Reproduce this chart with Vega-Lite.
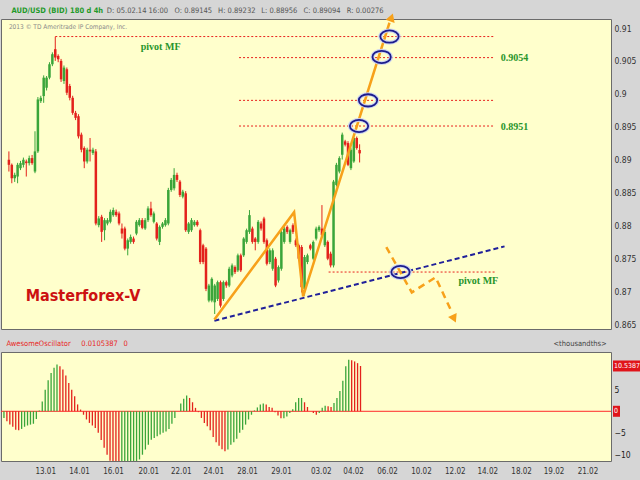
{
  "$schema": "https://vega.github.io/schema/vega-lite/v6.json",
  "background": "#d6d6d6",
  "padding": 0,
  "spacing": 2,
  "datasets": {
    "bars": [
      {"i":0,"o":0.88997,"h":0.89124,"l":0.88818,"c":0.8892,"ao":-1.55},
      {"i":1,"o":0.8892,"h":0.8894,"l":0.8864,"c":0.88716,"ao":-2.3},
      {"i":2,"o":0.88716,"h":0.888,"l":0.8866,"c":0.88767,"ao":-3.1},
      {"i":3,"o":0.88742,"h":0.8895,"l":0.8864,"c":0.8892,"ao":-3.6},
      {"i":4,"o":0.88869,"h":0.8898,"l":0.8884,"c":0.88946,"ao":-4.3},
      {"i":5,"o":0.8892,"h":0.8903,"l":0.8888,"c":0.88997,"ao":-4.4},
      {"i":6,"o":0.88971,"h":0.89,"l":0.88742,"c":0.88946,"ao":-4.1},
      {"i":7,"o":0.88946,"h":0.8906,"l":0.8891,"c":0.89022,"ao":-3.6},
      {"i":8,"o":0.89022,"h":0.8907,"l":0.8892,"c":0.88946,"ao":-3.3},
      {"i":9,"o":0.88818,"h":0.8943,"l":0.88793,"c":0.89124,"ao":-3.1},
      {"i":10,"o":0.89124,"h":0.8995,"l":0.891,"c":0.89914,"ao":-2.9},
      {"i":11,"o":0.89888,"h":0.8997,"l":0.8986,"c":0.89939,"ao":-1.8},
      {"i":12,"o":0.89965,"h":0.9028,"l":0.89863,"c":0.90245,"ao":0.2},
      {"i":13,"o":0.90092,"h":0.9027,"l":0.9005,"c":0.90245,"ao":2.3},
      {"i":14,"o":0.90245,"h":0.9048,"l":0.9022,"c":0.90449,"ao":5.0},
      {"i":15,"o":0.90449,"h":0.9063,"l":0.9042,"c":0.90602,"ao":7.2},
      {"i":16,"o":0.90678,"h":0.90867,"l":0.905,"c":0.90551,"ao":8.9},
      {"i":17,"o":0.90576,"h":0.906,"l":0.9048,"c":0.90525,"ao":10.1},
      {"i":18,"o":0.905,"h":0.9053,"l":0.9018,"c":0.9022,"ao":10.9},
      {"i":19,"o":0.90194,"h":0.9043,"l":0.9015,"c":0.90398,"ao":10.5},
      {"i":20,"o":0.90373,"h":0.904,"l":0.8998,"c":0.90016,"ao":9.7},
      {"i":21,"o":0.90118,"h":0.9015,"l":0.899,"c":0.89939,"ao":8.3},
      {"i":22,"o":0.89939,"h":0.8997,"l":0.8968,"c":0.8971,"ao":6.6},
      {"i":23,"o":0.8971,"h":0.8974,"l":0.896,"c":0.89634,"ao":5.0},
      {"i":24,"o":0.89659,"h":0.8969,"l":0.8932,"c":0.89353,"ao":3.5},
      {"i":25,"o":0.89379,"h":0.8941,"l":0.8911,"c":0.8915,"ao":1.6},
      {"i":26,"o":0.89175,"h":0.892,"l":0.88869,"c":0.88971,"ao":0.4},
      {"i":27,"o":0.88971,"h":0.8918,"l":0.8894,"c":0.8915,"ao":-0.8},
      {"i":28,"o":0.8915,"h":0.89328,"l":0.88971,"c":0.89124,"ao":-1.9},
      {"i":29,"o":0.89099,"h":0.8918,"l":0.8907,"c":0.8915,"ao":-2.7},
      {"i":30,"o":0.89124,"h":0.8916,"l":0.88,"c":0.88028,"ao":-3.3},
      {"i":31,"o":0.88003,"h":0.8814,"l":0.8797,"c":0.88105,"ao":-3.9},
      {"i":32,"o":0.8813,"h":0.8816,"l":0.87748,"c":0.87901,"ao":-5.0},
      {"i":33,"o":0.87926,"h":0.8811,"l":0.87773,"c":0.88079,"ao":-6.7},
      {"i":34,"o":0.88028,"h":0.8811,"l":0.88,"c":0.88079,"ao":-8.5},
      {"i":35,"o":0.88054,"h":0.8824,"l":0.8803,"c":0.88206,"ao":-10.1},
      {"i":36,"o":0.88155,"h":0.8827,"l":0.8813,"c":0.88232,"ao":-11.5},
      {"i":37,"o":0.88206,"h":0.8824,"l":0.8813,"c":0.88155,"ao":-12.5},
      {"i":38,"o":0.88181,"h":0.8821,"l":0.88,"c":0.88028,"ao":-12.8},
      {"i":39,"o":0.87952,"h":0.88028,"l":0.87799,"c":0.87875,"ao":-13},
      {"i":40,"o":0.87952,"h":0.8798,"l":0.8762,"c":0.87646,"ao":-13},
      {"i":41,"o":0.87646,"h":0.878,"l":0.87544,"c":0.87773,"ao":-13},
      {"i":42,"o":0.87748,"h":0.8786,"l":0.8772,"c":0.87824,"ao":-13},
      {"i":43,"o":0.87799,"h":0.8783,"l":0.8772,"c":0.87748,"ao":-12.8},
      {"i":44,"o":0.87875,"h":0.8808,"l":0.8785,"c":0.88054,"ao":-12.5},
      {"i":45,"o":0.88003,"h":0.8811,"l":0.8798,"c":0.88079,"ao":-12},
      {"i":46,"o":0.88079,"h":0.8811,"l":0.8794,"c":0.87962,"ao":-11.2},
      {"i":47,"o":0.87952,"h":0.8811,"l":0.8793,"c":0.88079,"ao":-10.1},
      {"i":48,"o":0.88079,"h":0.8829,"l":0.8805,"c":0.88257,"ao":-8.9},
      {"i":49,"o":0.88257,"h":0.88359,"l":0.8813,"c":0.88155,"ao":-7.8},
      {"i":50,"o":0.88054,"h":0.8821,"l":0.8803,"c":0.88181,"ao":-6.6},
      {"i":51,"o":0.88028,"h":0.8805,"l":0.8777,"c":0.87799,"ao":-6.2},
      {"i":52,"o":0.87748,"h":0.88,"l":0.877,"c":0.87977,"ao":-5.8},
      {"i":53,"o":0.87977,"h":0.8805,"l":0.8795,"c":0.88028,"ao":-5.4},
      {"i":54,"o":0.88003,"h":0.8811,"l":0.8798,"c":0.88079,"ao":-5.0},
      {"i":55,"o":0.88028,"h":0.8857,"l":0.88,"c":0.88538,"ao":-4.7},
      {"i":56,"o":0.88538,"h":0.8872,"l":0.8851,"c":0.88691,"ao":-4.1},
      {"i":57,"o":0.88563,"h":0.88869,"l":0.8853,"c":0.88767,"ao":-2.9},
      {"i":58,"o":0.88767,"h":0.888,"l":0.8866,"c":0.88691,"ao":-1.55},
      {"i":59,"o":0.88665,"h":0.8869,"l":0.8843,"c":0.88461,"ao":0},
      {"i":60,"o":0.88436,"h":0.8854,"l":0.8841,"c":0.88512,"ao":1.8},
      {"i":61,"o":0.88487,"h":0.8852,"l":0.879,"c":0.87926,"ao":2.9},
      {"i":62,"o":0.87901,"h":0.8805,"l":0.8787,"c":0.88028,"ao":3.7},
      {"i":63,"o":0.87926,"h":0.8811,"l":0.879,"c":0.88079,"ao":3.1},
      {"i":64,"o":0.88003,"h":0.8808,"l":0.8798,"c":0.88054,"ao":2.1},
      {"i":65,"o":0.88054,"h":0.8808,"l":0.8798,"c":0.88003,"ao":0.8},
      {"i":66,"o":0.87926,"h":0.8795,"l":0.8741,"c":0.87442,"ao":-0.2},
      {"i":67,"o":0.87697,"h":0.8772,"l":0.8741,"c":0.87442,"ao":-1.55},
      {"i":68,"o":0.87646,"h":0.8767,"l":0.87,"c":0.87034,"ao":-2.7},
      {"i":69,"o":0.86856,"h":0.8711,"l":0.8683,"c":0.87085,"ao":-3.5},
      {"i":70,"o":0.86856,"h":0.8721,"l":0.8683,"c":0.87187,"ao":-4.4},
      {"i":71,"o":0.8683,"h":0.8711,"l":0.86652,"c":0.87085,"ao":-6.0},
      {"i":72,"o":0.86881,"h":0.8716,"l":0.8685,"c":0.87136,"ao":-7.2},
      {"i":73,"o":0.87136,"h":0.8716,"l":0.8675,"c":0.86779,"ao":-8.0},
      {"i":74,"o":0.86881,"h":0.8716,"l":0.8685,"c":0.87136,"ao":-8.8},
      {"i":75,"o":0.87136,"h":0.8716,"l":0.8705,"c":0.87085,"ao":-9.3},
      {"i":76,"o":0.87085,"h":0.8737,"l":0.8706,"c":0.8734,"ao":-8.9},
      {"i":77,"o":0.87238,"h":0.8742,"l":0.8721,"c":0.87391,"ao":-7.8},
      {"i":78,"o":0.87366,"h":0.8739,"l":0.8726,"c":0.87289,"ao":-7.2},
      {"i":79,"o":0.87315,"h":0.8757,"l":0.8729,"c":0.87544,"ao":-6.4},
      {"i":80,"o":0.87544,"h":0.8757,"l":0.8729,"c":0.87315,"ao":-5.0},
      {"i":81,"o":0.87544,"h":0.8782,"l":0.8752,"c":0.87799,"ao":-4.3},
      {"i":82,"o":0.87748,"h":0.8795,"l":0.8772,"c":0.87926,"ao":-3.1},
      {"i":83,"o":0.879,"h":0.88232,"l":0.8787,"c":0.88155,"ao":-1.9},
      {"i":84,"o":0.87951,"h":0.8798,"l":0.8772,"c":0.87748,"ao":-0.8},
      {"i":85,"o":0.87798,"h":0.8782,"l":0.8762,"c":0.87748,"ao":0.2},
      {"i":86,"o":0.87748,"h":0.8808,"l":0.8772,"c":0.88053,"ao":0.9},
      {"i":87,"o":0.88028,"h":0.8806,"l":0.8792,"c":0.87951,"ao":1.6},
      {"i":88,"o":0.88104,"h":0.8813,"l":0.8772,"c":0.87748,"ao":1.8},
      {"i":89,"o":0.87773,"h":0.878,"l":0.8739,"c":0.87416,"ao":1.6},
      {"i":90,"o":0.87442,"h":0.8765,"l":0.8741,"c":0.8762,"ao":1.0},
      {"i":91,"o":0.8734,"h":0.8765,"l":0.8731,"c":0.8762,"ao":0.8},
      {"i":92,"o":0.87493,"h":0.8752,"l":0.8706,"c":0.87085,"ao":-0.2},
      {"i":93,"o":0.87162,"h":0.8739,"l":0.8713,"c":0.87365,"ao":-1.0},
      {"i":94,"o":0.8734,"h":0.8793,"l":0.8731,"c":0.879,"ao":-1.6},
      {"i":95,"o":0.87748,"h":0.8798,"l":0.8772,"c":0.87951,"ao":-1.6},
      {"i":96,"o":0.87977,"h":0.88,"l":0.8787,"c":0.879,"ao":-1.2},
      {"i":97,"o":0.87748,"h":0.8795,"l":0.8772,"c":0.87926,"ao":-0.4},
      {"i":98,"o":0.88002,"h":0.8803,"l":0.8787,"c":0.879,"ao":0.5},
      {"i":99,"o":0.87773,"h":0.878,"l":0.8767,"c":0.87697,"ao":2.1},
      {"i":100,"o":0.87697,"h":0.8772,"l":0.8747,"c":0.87493,"ao":3.1},
      {"i":101,"o":0.87671,"h":0.877,"l":0.8698,"c":0.8706,"ao":3.1},
      {"i":102,"o":0.87034,"h":0.8755,"l":0.86932,"c":0.87518,"ao":2.1},
      {"i":103,"o":0.87442,"h":0.8757,"l":0.8741,"c":0.87544,"ao":1.0},
      {"i":104,"o":0.87697,"h":0.8772,"l":0.8762,"c":0.87646,"ao":0},
      {"i":105,"o":0.87493,"h":0.8777,"l":0.8747,"c":0.87748,"ao":-0.4},
      {"i":106,"o":0.87798,"h":0.8798,"l":0.8777,"c":0.87951,"ao":-0.8},
      {"i":107,"o":0.87926,"h":0.88,"l":0.879,"c":0.87977,"ao":-0.4},
      {"i":108,"o":0.87951,"h":0.88308,"l":0.8782,"c":0.87849,"ao":0.8},
      {"i":109,"o":0.87697,"h":0.8793,"l":0.8767,"c":0.879,"ao":1.3},
      {"i":110,"o":0.87748,"h":0.8777,"l":0.8747,"c":0.87493,"ao":1.2},
      {"i":111,"o":0.87569,"h":0.876,"l":0.8736,"c":0.87391,"ao":1.0},
      {"i":112,"o":0.87391,"h":0.8869,"l":0.8736,"c":0.88665,"ao":1.9},
      {"i":113,"o":0.88614,"h":0.8895,"l":0.8859,"c":0.8892,"ao":3.1},
      {"i":114,"o":0.88818,"h":0.8905,"l":0.8879,"c":0.89022,"ao":4.7},
      {"i":115,"o":0.89073,"h":0.8941,"l":0.89,"c":0.89379,"ao":7.1},
      {"i":116,"o":0.89277,"h":0.893,"l":0.892,"c":0.89226,"ao":10.5},
      {"i":117,"o":0.89251,"h":0.8928,"l":0.889,"c":0.8892,"ao":12.0},
      {"i":118,"o":0.88869,"h":0.8918,"l":0.8884,"c":0.89149,"ao":11.9},
      {"i":119,"o":0.88971,"h":0.8935,"l":0.8895,"c":0.89328,"ao":11.6},
      {"i":120,"o":0.89328,"h":0.8935,"l":0.8915,"c":0.89175,"ao":11.2},
      {"i":121,"o":0.89145,"h":0.89232,"l":0.88956,"c":0.89094,"ao":10.5387}
    ],
    "levels": [
      {"i1":16,"i2":167.6,"p":0.9087},
      {"i1":79.4,"i2":167.6,"p":0.9055},
      {"i1":79.4,"i2":167.6,"p":0.899},
      {"i1":79.4,"i2":167.6,"p":0.8951},
      {"i1":110.3,"i2":167.6,"p":0.8729}
    ],
    "circles": [
      {"i":131.3,"p":0.9087},
      {"i":128.6,"p":0.9056},
      {"i":123.9,"p":0.899},
      {"i":120.8,"p":0.8951},
      {"i":135.1,"p":0.8729}
    ]
  },
  "vconcat": [
    {
      "width": 610,
      "height": 310,
      "resolve": {"axis": {"x": "independent", "y": "independent"}},
      "layer": [
        {
          "data": {"name": "levels"},
          "mark": {"type": "rule", "color": "#e8211c", "strokeDash": [2, 2], "strokeWidth": 1},
          "encoding": {
            "x": {"field": "i1", "type": "quantitative", "axis": null},
            "x2": {"field": "i2"},
            "y": {"field": "p", "type": "quantitative", "axis": null}
          }
        },
        {
          "data": {"name": "bars"},
          "mark": {"type": "rule", "strokeWidth": 1},
          "encoding": {
            "x": {
              "field": "i", "type": "quantitative",
              "scale": {"domain": [-1, 206], "nice": false, "zero": false},
              "axis": {
                "orient": "top", "title": null,
                "values": [0.7, 33.6, 57, 72, 86.9, 101.5, 116.4],
                "labelExpr": "['AUD/USD (BID) 180 d 4h','D: 05.02.14 16:00','O: 0.89145','H: 0.89232','L: 0.88956','C: 0.89094','R: 0.00276'][indexof([0.7,33.6,57,72,86.9,101.5,116.4], datum.value)]",
                "labelAlign": "left", "labelFlush": false, "labelOverlap": false,
                "ticks": false, "domain": false, "grid": false,
                "labelPadding": 5, "labelFontSize": 7.5,
                "labelColor": {"condition": {"test": "datum.value < 1", "value": "#1f9a2a"}, "value": "#555555"},
                "labelFontWeight": {"condition": {"test": "datum.value < 1", "value": "bold"}, "value": "normal"},
                "minExtent": 18, "maxExtent": 18
              }
            },
            "y": {
              "field": "l", "type": "quantitative",
              "scale": {"domain": [0.86424, 0.91137], "nice": false, "zero": false},
              "axis": {
                "orient": "right", "title": null,
                "values": [0.865, 0.87, 0.875, 0.88, 0.885, 0.89, 0.895, 0.9, 0.905, 0.91],
                "format": ".3~f", "ticks": false, "domain": false, "grid": false,
                "labelPadding": 3, "labelFontSize": 8.5, "labelColor": "#333333",
                "minExtent": 30, "maxExtent": 30
              }
            },
            "y2": {"field": "h"},
            "color": {"condition": {"test": "datum.c >= datum.o", "value": "#3aa53a"}, "value": "#e3221c"}
          }
        },
        {
          "data": {"name": "bars"},
          "mark": {"type": "bar", "width": 2.5},
          "encoding": {
            "x": {"field": "i", "type": "quantitative", "axis": null},
            "y": {"field": "o", "type": "quantitative", "axis": null},
            "y2": {"field": "c"},
            "color": {"condition": {"test": "datum.c >= datum.o", "value": "#3aa53a"}, "value": "#e3221c"}
          }
        },
        {
          "data": {"values": [{"i": 70.9, "p": 0.8655}, {"i": 171, "p": 0.8768}]},
          "mark": {"type": "line", "color": "#20209a", "strokeWidth": 2, "strokeDash": [5, 3]},
          "encoding": {
            "x": {"field": "i", "type": "quantitative", "axis": null},
            "y": {"field": "p", "type": "quantitative", "axis": null}
          }
        },
        {
          "data": {"values": [{"i": 70.9, "p": 0.8657}, {"i": 98.4, "p": 0.882}, {"i": 101.5, "p": 0.8692}, {"i": 131.3, "p": 0.9108}]},
          "mark": {"type": "line", "color": "#f7a11a", "strokeWidth": 2.5},
          "encoding": {
            "x": {"field": "i", "type": "quantitative", "axis": null},
            "y": {"field": "p", "type": "quantitative", "axis": null}
          }
        },
        {
          "data": {"values": [{"i": 130.2, "p": 0.8767}, {"i": 139, "p": 0.8698}, {"i": 147.2, "p": 0.8721}, {"i": 152.6, "p": 0.867}]},
          "mark": {"type": "line", "color": "#f7a11a", "strokeWidth": 2.5, "strokeDash": [7, 5]},
          "encoding": {
            "x": {"field": "i", "type": "quantitative", "axis": null},
            "y": {"field": "p", "type": "quantitative", "axis": null}
          }
        },
        {
          "data": {"values": [{"i": 132, "p": 0.9116}]},
          "mark": {"type": "point", "shape": "triangle-up", "filled": true, "color": "#f7a11a", "opacity": 1, "size": 90, "angle": 19},
          "encoding": {
            "x": {"field": "i", "type": "quantitative", "axis": null},
            "y": {"field": "p", "type": "quantitative", "axis": null}
          }
        },
        {
          "data": {"values": [{"i": 153.6, "p": 0.8658}]},
          "mark": {"type": "point", "shape": "triangle-down", "filled": true, "color": "#f7a11a", "opacity": 1, "size": 90, "angle": -25},
          "encoding": {
            "x": {"field": "i", "type": "quantitative", "axis": null},
            "y": {"field": "p", "type": "quantitative", "axis": null}
          }
        },
        {
          "data": {"name": "circles"},
          "mark": {"type": "point", "shape": "M-1.5,0A1.5,1,0,1,1,1.5,0A1.5,1,0,1,1,-1.5,0Z", "filled": false, "color": "#c9d2f5", "strokeWidth": 4, "opacity": 0.9, "size": 150},
          "encoding": {
            "x": {"field": "i", "type": "quantitative", "axis": null},
            "y": {"field": "p", "type": "quantitative", "axis": null}
          }
        },
        {
          "data": {"name": "circles"},
          "mark": {"type": "point", "shape": "M-1.5,0A1.5,1,0,1,1,1.5,0A1.5,1,0,1,1,-1.5,0Z", "filled": false, "color": "#1c1c8c", "strokeWidth": 1.8, "opacity": 1, "size": 150},
          "encoding": {
            "x": {"field": "i", "type": "quantitative", "axis": null},
            "y": {"field": "p", "type": "quantitative", "axis": null}
          }
        },
        {
          "data": {"values": [
            {"i": 45.5, "p": 0.90714, "t": "pivot MF"},
            {"i": 169.7, "p": 0.90545, "t": "0.9054"},
            {"i": 169.7, "p": 0.89491, "t": "0.8951"},
            {"i": 155.1, "p": 0.87148, "t": "pivot MF"}
          ]},
          "mark": {"type": "text", "align": "left", "baseline": "middle", "font": "Liberation Serif, DejaVu Serif, serif", "fontWeight": "bold", "fontSize": 10, "color": "#27952a"},
          "encoding": {
            "x": {"field": "i", "type": "quantitative", "axis": null},
            "y": {"field": "p", "type": "quantitative", "axis": null},
            "text": {"field": "t"}
          }
        },
        {
          "data": {"values": [{"i": 5.8, "p": 0.8693, "t": "Masterforex-V"}]},
          "mark": {"type": "text", "align": "left", "baseline": "middle", "font": "DejaVu Sans Condensed, Liberation Sans, sans-serif", "fontWeight": "bold", "fontSize": 16, "color": "#cc1111"},
          "encoding": {
            "x": {"field": "i", "type": "quantitative", "axis": null},
            "y": {"field": "p", "type": "quantitative", "axis": null},
            "text": {"field": "t"}
          }
        },
        {
          "data": {"values": [{"i": 0, "p": 0.9101, "t": "2013 © TD Ameritrade IP Company, Inc."}]},
          "mark": {"type": "text", "align": "left", "baseline": "middle", "font": "DejaVu Sans Condensed, Liberation Sans, sans-serif", "fontSize": 6.5, "color": "#8a8a8a"},
          "encoding": {
            "x": {"field": "i", "type": "quantitative", "axis": null},
            "y": {"field": "p", "type": "quantitative", "axis": null},
            "text": {"field": "t"}
          }
        }
      ]
    },
    {
      "width": 610,
      "height": 109,
      "resolve": {"axis": {"x": "independent", "y": "independent"}},
      "layer": [
        {
          "data": {"values": [{}]},
          "mark": {"type": "rule", "color": "#ff2a2a", "strokeWidth": 1},
          "encoding": {
            "x": {
              "datum": -1, "type": "quantitative",
              "scale": {"domain": [-1, 206], "nice": false, "zero": false},
              "axis": {
                "orient": "top", "title": null,
                "values": [0.7, 26.1, 40.4, 186.3],
                "labelExpr": "['AwesomeOscillator','0.0105387','0','<thousandths>'][indexof([0.7,26.1,40.4,186.3], datum.value)]",
                "labelAlign": "left", "labelFlush": false, "labelOverlap": false,
                "ticks": false, "domain": false, "grid": false,
                "labelPadding": 5, "labelFontSize": 7.5,
                "labelColor": {"condition": {"test": "datum.value < 100", "value": "#e8281e"}, "value": "#444444"},
                "minExtent": 19, "maxExtent": 19
              }
            },
            "x2": {"datum": 206},
            "y": {
              "datum": 0, "type": "quantitative",
              "scale": {"domain": [-11.56, 13.79], "nice": false, "zero": false},
              "axis": {
                "orient": "right", "title": null, "values": [5, -5, -10],
                "ticks": false, "domain": false, "grid": false,
                "labelPadding": 3, "labelFontSize": 8.5, "labelColor": "#222222",
                "minExtent": 30, "maxExtent": 30
              }
            }
          }
        },
        {
          "data": {"name": "bars"},
          "transform": [{"window": [{"op": "lag", "field": "ao", "as": "prev"}], "sort": [{"field": "i", "order": "ascending"}]}],
          "mark": {"type": "rule", "strokeWidth": 1.3, "clip": true},
          "encoding": {
            "x": {
              "field": "i", "type": "quantitative",
              "axis": {
                "orient": "bottom", "title": null,
                "values": [14, 25.5, 37, 49, 60, 71, 82.5, 94, 107.5, 118.5, 130, 141.5, 153, 164, 175.5, 186.5, 198],
                "labelExpr": "['13.01','14.01','16.01','20.01','22.01','24.01','28.01','29.01','03.02','04.02','06.02','10.02','12.02','14.02','18.02','19.02','21.02'][indexof([14,25.5,37,49,60,71,82.5,94,107.5,118.5,130,141.5,153,164,175.5,186.5,198], datum.value)]",
                "labelFlush": false, "labelOverlap": false,
                "ticks": false, "domain": false, "grid": false,
                "labelPadding": 6, "labelFontSize": 8, "labelColor": "#333333",
                "minExtent": 22, "maxExtent": 22
              }
            },
            "y": {"field": "ao", "type": "quantitative", "axis": null},
            "y2": {"datum": 0},
            "color": {"condition": {"test": "datum.prev == null || datum.ao >= datum.prev", "value": "#3aa53a"}, "value": "#e3221c"}
          }
        },
        {
          "data": {"values": [{}]},
          "mark": {"type": "point", "shape": "M0.36,-1H5.4V1H0.36Z", "filled": true, "color": "#e0141a", "opacity": 1, "size": 121},
          "encoding": {
            "x": {"datum": 206, "type": "quantitative", "axis": null},
            "y": {"datum": 10.5387, "type": "quantitative", "axis": null}
          }
        },
        {
          "data": {"values": [{}]},
          "mark": {"type": "point", "shape": "M0.36,-1H1.64V1H0.36Z", "filled": true, "color": "#e0141a", "opacity": 1, "size": 121},
          "encoding": {
            "x": {"datum": 206, "type": "quantitative", "axis": null},
            "y": {"datum": 0, "type": "quantitative", "axis": null}
          }
        },
        {
          "data": {"values": [{"v": 10.5387, "t": "10.5387"}, {"v": 0, "t": "0"}]},
          "mark": {"type": "text", "align": "left", "baseline": "middle", "dx": 3, "fontSize": 7, "color": "#ffffff", "font": "DejaVu Sans Condensed, Liberation Sans, sans-serif"},
          "encoding": {
            "x": {"datum": 206, "type": "quantitative", "axis": null},
            "y": {"field": "v", "type": "quantitative", "axis": null},
            "text": {"field": "t"}
          }
        }
      ]
    }
  ],
  "config": {
    "view": {"fill": "#ffffcc", "stroke": "#6b6b6b"},
    "axis": {"labelFont": "DejaVu Sans Condensed, Liberation Sans, sans-serif"}
  }
}
